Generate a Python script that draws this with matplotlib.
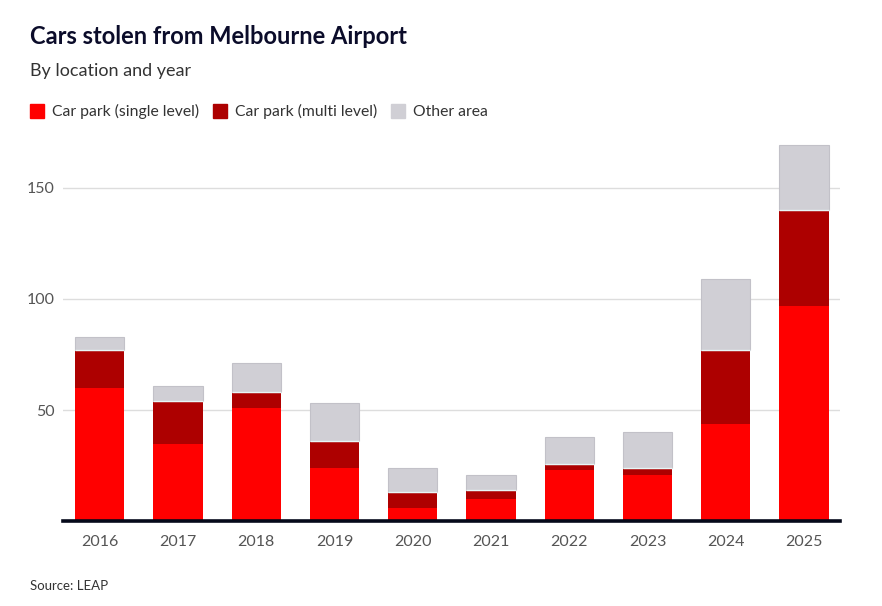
import numpy as np
import matplotlib.pyplot as plt
from matplotlib.patches import Rectangle

years = ["2016", "2017", "2018", "2019", "2020", "2021", "2022", "2023", "2024", "2025"]
single_level = [60, 35, 51, 24, 6, 10, 23, 21, 44, 97]
multi_level = [17, 19, 7, 12, 7, 4, 3, 3, 33, 43]
other_area = [6, 7, 13, 17, 11, 7, 12, 16, 32, 29]

series_names = ["Car park (single level)", "Car park (multi level)", "Other area"]
colors = ["#ff0000", "#ad0000", "#d0cfd5"]

plt.rcParams['font.family'] = ['Lato', 'DejaVu Sans']

fig = plt.figure(figsize=(8.82, 6.06), dpi=100)
ax = fig.add_axes([0.0714, 0.1396, 0.881, 0.6425])

x = np.arange(len(years))
w = 0.63
single = np.array(single_level)
multi = np.array(multi_level)
other = np.array(other_area)

ax.bar(x, single, w, color=colors[0], zorder=3)
ax.bar(x, multi, w, bottom=single, color=colors[1], zorder=3)
ax.bar(x, other, w, bottom=single + multi, color=colors[2],
       edgecolor="#c2c1c8", linewidth=0.8, zorder=3)
# thin light seam between multi level and other area segments
ax.hlines(single + multi, x - w / 2, x + w / 2, color="#e8f6f6", linewidth=1.0, zorder=4)

ax.set_xlim(-0.47, 9.46)
ax.set_ylim(0, 175)
ax.set_yticks([50, 100, 150])
ax.set_xticks(x)
ax.set_xticklabels(years)
ax.grid(axis="y", color="#dddddd", linewidth=1, zorder=0)
for s in ["top", "right", "left"]:
    ax.spines[s].set_visible(False)
ax.spines["bottom"].set_color("#05091a")
ax.spines["bottom"].set_linewidth(2.6)
ax.spines["bottom"].set_zorder(5)
ax.tick_params(axis="both", length=0, labelsize=11.5, colors="#555555")
ax.tick_params(axis="x", pad=10)
ax.tick_params(axis="y", pad=6)

fig.text(30 / 882, 1 - 36 / 606, "Cars stolen from Melbourne Airport", fontsize=17,
         fontweight="bold", color="#0b0c2a", va="center", ha="left")
fig.text(30 / 882, 1 - 71 / 606, "By location and year", fontsize=13,
         color="#333333", va="center", ha="left")

# legend drawn by hand as squares + labels
legend_x = [30, 213, 391]
for lx, name, c in zip(legend_x, series_names, colors):
    fig.patches.append(Rectangle((lx / 882, 1 - 118 / 606), 14 / 882, 14 / 606,
                                 transform=fig.transFigure, color=c))
    fig.text((lx + 22) / 882, 1 - 111.5 / 606, name, fontsize=11.3,
             color="#333333", va="center", ha="left")

fig.text(30 / 882, 1 - 586 / 606, "Source: LEAP", fontsize=9.5,
         color="#333333", va="center", ha="left")

fig.savefig("out.png", dpi=100)
